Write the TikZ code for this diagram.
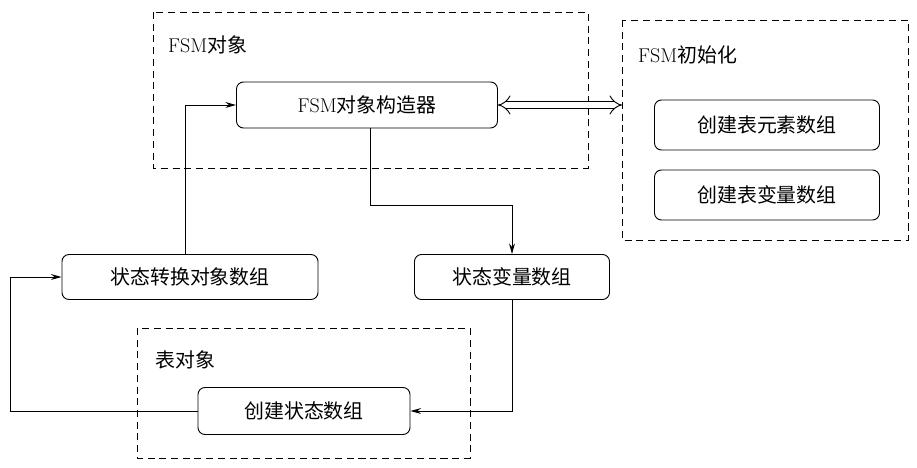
\documentclass[tikz,border=0pt]{standalone}
\usepackage{fontspec}
\newfontfamily\cjk{Noto Sans CJK SC}
\usetikzlibrary{arrows.meta}
\begin{document}
\begin{tikzpicture}[x=0.03cm,y=-0.03cm,
  box/.style={draw,rounded corners=6pt,line width=0.8pt,inner sep=0pt,font=\fontsize{17}{20}\selectfont},
  dbox/.style={draw,dashed,line width=0.8pt,dash pattern=on 6pt off 4pt},
  lab/.style={anchor=west,font=\fontsize{17}{20}\selectfont,inner sep=0pt},
  arr/.style={line width=0.8pt,-{Stealth[length=9pt,width=5pt]}}]
\useasboundingbox (0,0) rectangle (917,467);
\draw[dbox] (153,12) rectangle (588,168);
\node[lab] (l1) at (168,45) {FSM{\cjk 对象}};
\draw[dbox] (622,20) rectangle (908,240);
\coordinate (initL) at (622,105);
\node[lab] (l2) at (638,55) {FSM{\cjk 初始化}};
\draw[dbox] (137,328) rectangle (470,458);
\node[lab] (l3) at (155,360) {\cjk 表对象};
\node[box] (ctor) at (367,105) [minimum width=7.83cm,minimum height=1.38cm] {FSM{\cjk 对象构造器}};
\node[box,minimum width=6.75cm,minimum height=1.5cm] (e1) at (767,125) {\cjk 创建表元素数组};
\node[box,minimum width=6.75cm,minimum height=1.5cm] (e2) at (767,195) {\cjk 创建表变量数组};
\node[box,minimum width=7.68cm,minimum height=1.35cm] (sc) at (190,277) {\cjk 状态转换对象数组};
\node[box,minimum width=5.85cm,minimum height=1.35cm] (sv) at (512,277) {\cjk 状态变量数组};
\node[box,minimum width=6.36cm,minimum height=1.41cm] (cs) at (304,411) {\cjk 创建状态数组};
\draw[line width=0.8pt,double,double distance=5pt,{Implies}-{Implies}] (ctor.east) -- (initL);
\draw[arr] (ctor.south -| 370,0) |- (512,205) -- (sv.north);
\draw[arr] (sv.south) |- (cs.east);
\draw[arr] (cs.west) -| (10,277) -- (sc.west);
\draw[arr] (sc.north -| 185,0) |- (ctor.west);
\end{tikzpicture}
\end{document}
